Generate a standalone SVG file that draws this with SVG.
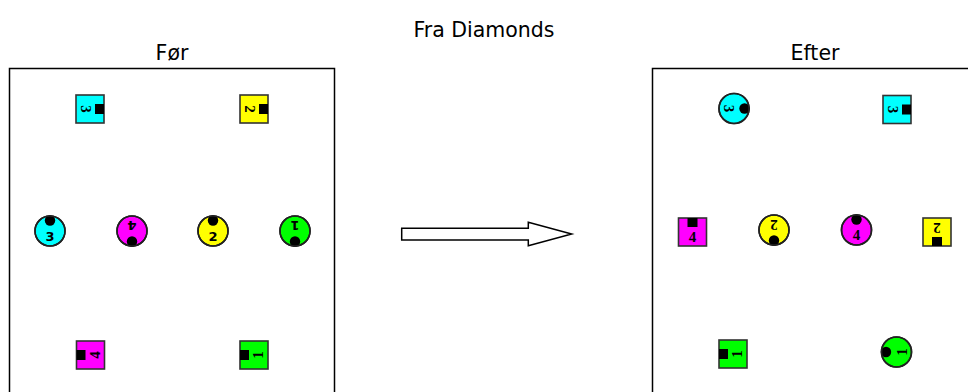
<svg xmlns="http://www.w3.org/2000/svg" width="968" height="392" viewBox="0 0 968 392">
<style>
.title{font-family:"DejaVu Sans",Verdana,sans-serif;font-size:20.5px;fill:#000;text-anchor:middle}
.frame{fill:#fff;stroke:#000;stroke-width:1.5}
.sq{stroke:#333;stroke-width:1.6}
.ci{stroke:#222;stroke-width:1.6}
.ring{fill:none;stroke:#222;stroke-width:1.6}
.notch{fill:#000}
.cy{fill:#00ffff}.ye{fill:#ffff00}.ma{fill:#ff00ff}.gr{fill:#00ff00}
.ns{font-family:"DejaVu Sans",Verdana,sans-serif;font-size:13px;font-weight:bold;fill:#000;text-anchor:middle}
.nr{font-family:"Liberation Serif","Times New Roman",serif;font-size:15px;font-weight:bold;fill:#000;text-anchor:middle}
.arrow{fill:#fff;stroke:#000;stroke-width:1.5}
</style>
<defs>
<g id="sqbase">
<rect class="notch" x="-5" y="-14" width="10" height="9"/>
</g>
<g id="cinotch">
<circle class="notch" cx="0" cy="-10.5" r="5.2"/>
<circle class="ring" cx="0" cy="0" r="15"/>
</g>
</defs>
<rect width="968" height="392" fill="#fff"/>
<text class="title" x="484" y="37">Fra Diamonds</text>
<text class="title" x="172" y="60">Før</text>
<text class="title" x="815" y="60">Efter</text>
<g id="before-frame"><rect class="frame" x="9.5" y="68.5" width="325" height="340"/></g>
<g id="after-frame"><rect class="frame" x="652.5" y="68.5" width="325" height="340"/></g>

<g id="b-sq3" transform="translate(90,109) rotate(90)"><rect class="sq cy" x="-14" y="-14" width="28" height="28"/><use href="#sqbase"/><text class="nr" x="0" y="9">3</text></g>
<g id="b-sq2" transform="translate(254,109) rotate(90)"><rect class="sq ye" x="-14" y="-14" width="28" height="28"/><use href="#sqbase"/><text class="nr" x="0" y="9">2</text></g>
<g id="b-ci3" transform="translate(50,231) rotate(0)"><circle class="ci cy" r="15"/><use href="#cinotch"/><text class="ns" x="0" y="9.7">3</text></g>
<g id="b-ci4" transform="translate(132,231) rotate(180)"><circle class="ci ma" r="15"/><use href="#cinotch"/><text class="ns" x="0" y="9.7">4</text></g>
<g id="b-ci2" transform="translate(213,231) rotate(0)"><circle class="ci ye" r="15"/><use href="#cinotch"/><text class="ns" x="0" y="9.7">2</text></g>
<g id="b-ci1" transform="translate(295,231) rotate(180)"><circle class="ci gr" r="15"/><use href="#cinotch"/><text class="ns" x="0" y="9.7">1</text></g>
<g id="b-sq4" transform="translate(90.5,355) rotate(-90)"><rect class="sq ma" x="-14" y="-14" width="28" height="28"/><use href="#sqbase"/><text class="nr" x="0" y="9">4</text></g>
<g id="b-sq1" transform="translate(254,355) rotate(-90)"><rect class="sq gr" x="-14" y="-14" width="28" height="28"/><use href="#sqbase"/><text class="nr" x="0" y="9">1</text></g>

<g id="a-ci3" transform="translate(734,108.5) rotate(90)"><circle class="ci cy" r="15"/><use href="#cinotch"/><text class="nr" x="0" y="10">3</text></g>
<g id="a-sq3" transform="translate(897,109.5) rotate(90)"><rect class="sq cy" x="-14" y="-14" width="28" height="28"/><use href="#sqbase"/><text class="nr" x="0" y="9">3</text></g>
<g id="a-sq4" transform="translate(692.5,232) rotate(0)"><rect class="sq ma" x="-14" y="-14" width="28" height="28"/><use href="#sqbase"/><text class="nr" x="0" y="9.5">4</text></g>
<g id="a-ci2" transform="translate(774,230) rotate(180)"><circle class="ci ye" r="15"/><use href="#cinotch"/><text class="nr" x="0" y="10">2</text></g>
<g id="a-ci4" transform="translate(856.5,230) rotate(0)"><circle class="ci ma" r="15"/><use href="#cinotch"/><text class="nr" x="0" y="10">4</text></g>
<g id="a-sq2" transform="translate(937,232) rotate(180)"><rect class="sq ye" x="-14" y="-14" width="28" height="28"/><use href="#sqbase"/><text class="nr" x="0" y="9">2</text></g>
<g id="a-sq1" transform="translate(733,354) rotate(-90)"><rect class="sq gr" x="-14" y="-14" width="28" height="28"/><use href="#sqbase"/><text class="nr" x="0" y="9">1</text></g>
<g id="a-ci1" transform="translate(896.5,352) rotate(-90)"><circle class="ci gr" r="15"/><use href="#cinotch"/><text class="nr" x="0" y="10">1</text></g>

<g id="connectors">
<polygon class="arrow" points="401.7,228.3 528.3,228.3 528.3,222.3 571.7,234 528.3,245.7 528.3,240 401.7,240"/>
</g>
</svg>
